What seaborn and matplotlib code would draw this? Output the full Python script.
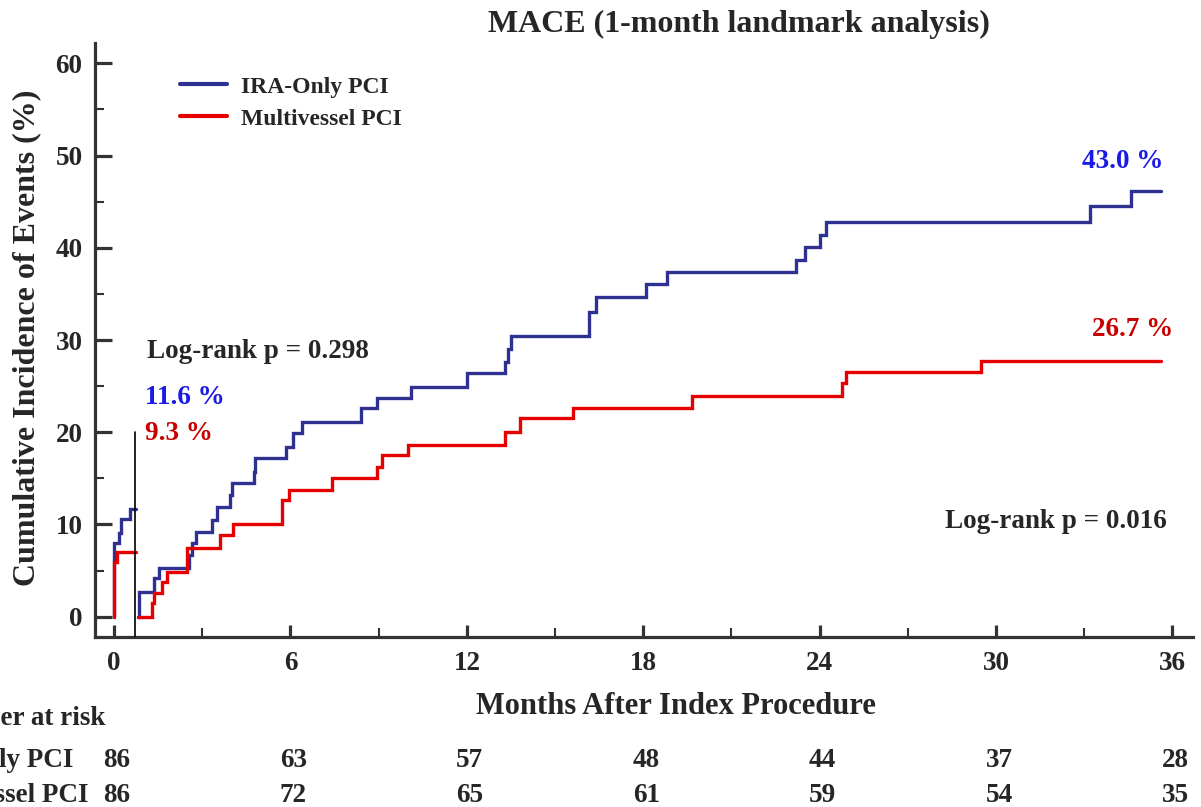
import numpy as np
import pandas as pd
import matplotlib
matplotlib.use("Agg")
import matplotlib.pyplot as plt
import matplotlib.transforms as mtransforms
from matplotlib.lines import Line2D
import seaborn as sns

# cumulative incidence (%), step functions (post)
ira_pre_t = [0, 0, 0.17, 0.25, 0.55, 0.76]
ira_pre_y = [0, 8.0, 9.1, 10.6, 11.7, 11.7]
mv_pre_t = [0, 0, 0.1, 0.76]
mv_pre_y = [0, 5.9, 7.0, 7.0]

ira_post_t = [0.8, 0.83, 0.85, 1.34, 1.54, 2.56, 2.64, 2.79, 3.32, 3.49, 3.95, 4.0,
              4.76, 4.8, 5.85, 6.1, 6.4, 8.4, 8.95, 10.1, 12.0, 13.3, 13.4, 13.5,
              16.15, 16.4, 18.1, 18.8, 23.2, 23.5, 24.0, 24.2, 33.2, 34.6, 35.6]
ira_post_y = [0, 1.3, 2.7, 4.2, 5.3, 6.7, 8.0, 9.2, 10.5, 11.9, 13.2, 14.5,
              15.7, 17.2, 18.4, 19.9, 21.1, 22.6, 23.7, 24.9, 26.4, 27.6, 29.0, 30.4,
              33.0, 34.7, 36.1, 37.4, 38.7, 40.1, 41.4, 42.8, 44.5, 46.2, 46.2]
mv_post_t = [0.8, 1.28, 1.34, 1.62, 1.79, 2.49, 3.6, 4.06, 5.7, 5.95, 7.4, 8.95,
             9.1, 10.0, 13.3, 13.8, 15.6, 19.65, 24.75, 24.9, 29.5, 35.6]
mv_post_y = [0, 1.5, 2.6, 3.8, 4.9, 7.4, 8.9, 10.0, 12.6, 13.7, 15.0, 16.2,
             17.5, 18.6, 20.0, 21.5, 22.6, 23.9, 25.3, 26.5, 27.7, 27.7]

landmark = 0.72

# number at risk
risk_times = [0, 6, 12, 18, 24, 30, 36]
risk_ira = [86, 63, 57, 48, 44, 37, 28]
risk_mv = [86, 72, 65, 61, 59, 54, 35]

BLUE = "#2e3192"
RED = "#e60000"
TXT_BLUE = "#1a1ae6"
TXT_RED = "#c80000"
DARK = "#333333"

sns.set_style("ticks")
plt.rcParams["font.family"] = ["Liberation Serif", "DejaVu Serif"]
plt.rcParams["font.weight"] = "bold"

W, H = 1201, 807
fig = plt.figure(figsize=(W / 100, H / 100), dpi=100)
ax = fig.add_axes([95 / W, 1 - 637 / H, (1193 - 95) / W, (637 - 43) / H])

lw = 2.4
for t, y, c in [(ira_pre_t, ira_pre_y, BLUE), (ira_post_t, ira_post_y, BLUE),
                (mv_pre_t, mv_pre_y, RED), (mv_post_t, mv_post_y, RED)]:
    sns.lineplot(x=t, y=y, ax=ax, color=c, lw=lw, estimator=None,
                 drawstyle="steps-post", solid_joinstyle="miter")

ax.plot([landmark, landmark], [-2.2, 20], color="black", lw=1.2, zorder=5)

ax.set_xlim(-0.65, 36.7)
ax.set_ylim(-2.2, 62.2)
ax.set_xticks(risk_times)
ax.set_xticks(np.arange(3, 36, 6), minor=True)
ax.set_yticks(np.arange(0, 61, 10))
ax.set_yticks(np.arange(5, 60, 10), minor=True)
sns.despine(ax=ax)
for s in ["left", "bottom"]:
    ax.spines[s].set_linewidth(2.3)
    ax.spines[s].set_color(DARK)
ax.tick_params(axis="both", which="both", direction="in", color=DARK, labelsize=19.5)
ax.tick_params(axis="y", which="major", length=12, width=2.3, pad=9)
ax.tick_params(axis="x", which="major", length=8.5, width=2.3, pad=10)
ax.tick_params(axis="both", which="minor", length=6.5, width=1.5)
for lab in ax.get_xticklabels() + ax.get_yticklabels():
    lab.set_fontweight("bold")

ax.set_xlabel("")
ax.set_ylabel("")
fig.text(27 / W, 1 - 338 / H, "Cumulative Incidence of Events (%)", rotation=90,
         ha="center", va="center", fontsize=23, fontweight="bold")
fig.text(676 / W, 1 - 706 / H, "Months After Index Procedure",
         ha="center", va="center", fontsize=22, fontweight="bold")
fig.text(739 / W, 1 - 24 / H, "MACE (1-month landmark analysis)",
         ha="center", va="center", fontsize=23, fontweight="bold")

# annotations
ax.text(147 / W, 1 - 352 / H, "Log-rank p = 0.298", transform=fig.transFigure,
        ha="left", va="center", fontsize=19.5, fontweight="bold")
ax.text(1167 / W, 1 - 521 / H, "Log-rank p = 0.016", transform=fig.transFigure,
        ha="right", va="center", fontsize=19.5, fontweight="bold")
ax.text(1163 / W, 1 - 162 / H, "43.0 %", transform=fig.transFigure, color=TXT_BLUE,
        ha="right", va="center", fontsize=19.5, fontweight="bold")
ax.text(1173 / W, 1 - 330 / H, "26.7 %", transform=fig.transFigure, color=TXT_RED,
        ha="right", va="center", fontsize=19.5, fontweight="bold")
ax.text(145 / W, 1 - 397 / H, "11.6 %", transform=fig.transFigure, color=TXT_BLUE,
        ha="left", va="center", fontsize=19.5, fontweight="bold")
ax.text(145 / W, 1 - 434 / H, "9.3 %", transform=fig.transFigure, color=TXT_RED,
        ha="left", va="center", fontsize=19.5, fontweight="bold")

# legend
handles = [Line2D([], [], color=BLUE, lw=3), Line2D([], [], color=RED, lw=3)]
ax.legend(handles, ["IRA-Only PCI", "Multivessel PCI"], loc="upper left",
          bbox_to_anchor=(180 / W, 1 - 76 / H), bbox_transform=fig.transFigure,
          frameon=False, fontsize=17, handlelength=2.0, handletextpad=0.6,
          labelspacing=0.45, borderpad=0, borderaxespad=0,
          prop={"weight": "bold", "size": 17})

# number at risk table
trans = mtransforms.blended_transform_factory(ax.transData, fig.transFigure)
fig.text(105 / W, 1 - 725 / H, "Number at risk", ha="right", va="baseline",
         fontsize=19.5, fontweight="bold")
fig.text(73 / W, 1 - 767 / H, "IRA-Only PCI", ha="right", va="baseline",
         fontsize=19.5, fontweight="bold")
fig.text(88 / W, 1 - 802 / H, "Multivessel PCI", ha="right", va="baseline",
         fontsize=19.5, fontweight="bold")
for t, a, b in zip(risk_times, risk_ira, risk_mv):
    ax.text(t + 0.1, 1 - 767 / H, str(a), transform=trans, ha="center",
            va="baseline", fontsize=19.5, fontweight="bold")
    ax.text(t + 0.1, 1 - 802 / H, str(b), transform=trans, ha="center",
            va="baseline", fontsize=19.5, fontweight="bold")

fig.savefig("out.png", dpi=100)
